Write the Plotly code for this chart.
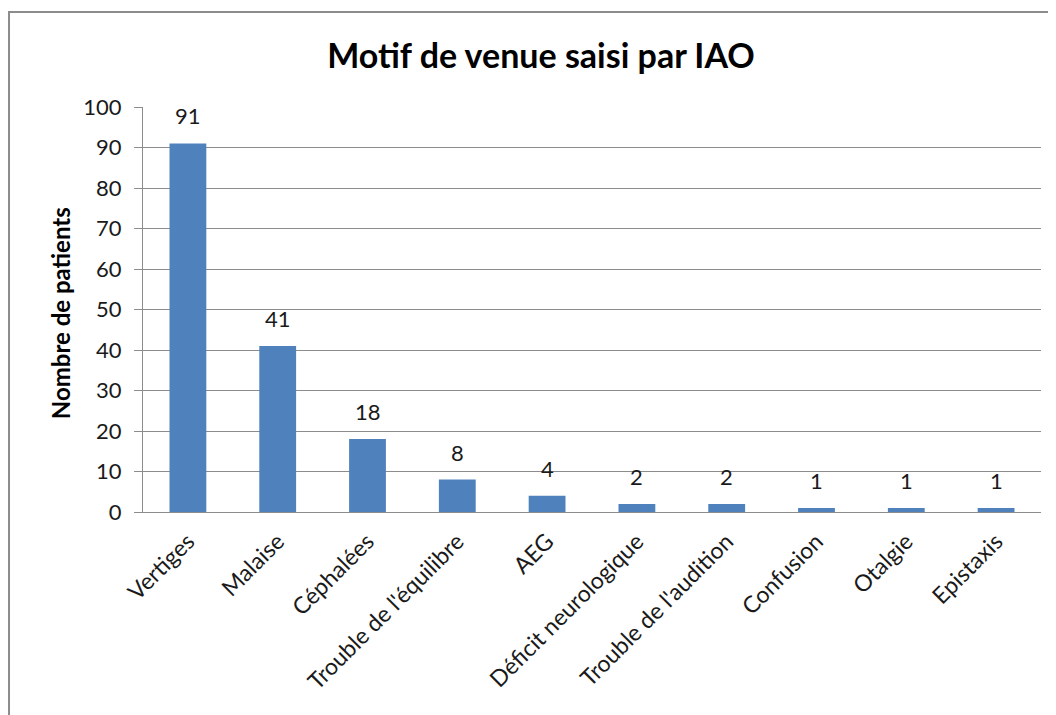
import plotly.graph_objects as go

# data
motifs = ["Vertiges", "Malaise", "Céphalées", "Trouble de l'équilibre", "AEG",
          "Déficit neurologique", "Trouble de l'audition", "Confusion", "Otalgie", "Epistaxis"]
patients = [91, 41, 18, 8, 4, 2, 2, 1, 1, 1]
y_ticks = list(range(0, 101, 10))

FONT = "Lato"
GRID = "#8c8c8c"

fig = go.Figure()
fig.add_trace(go.Bar(x=motifs, y=patients, width=0.41,
                     marker=dict(color="#4f81bd", line=dict(width=0))))

# value labels above each bar
for m, v in zip(motifs, patients):
    fig.add_annotation(x=m, y=v, text=str(v), showarrow=False, yanchor="bottom",
                       yshift=12, font=dict(family=FONT, size=22, color="#1a1a1a"))

# y axis title
fig.add_annotation(xref="paper", yref="paper", x=-0.0924, y=0.491, xanchor="center", yanchor="middle",
                   text="<b>Nombre de patients</b>", textangle=-90, showarrow=False,
                   font=dict(family=FONT, size=24, color="#000"))

# outer chart frame (runs off the right and bottom of the picture)
fig.add_shape(type="rect", xref="paper", yref="paper", x0=-0.1492, y0=-0.7, x1=1.1, y1=1.2346,
              line=dict(color="#8c8c8c", width=2))

# page body has an 8px margin, so the figure is 8px smaller than the window
fig.update_layout(
    width=1048, height=707,
    margin=dict(l=135, r=15, t=99, b=203, autoexpand=False),
    plot_bgcolor="white", paper_bgcolor="white",
    showlegend=False,
    title=dict(text="<b>Motif de venue saisi par IAO</b>", x=0.5086, xanchor="center",
               y=0.932, yanchor="middle", font=dict(family=FONT, size=34, color="#000")),
    font=dict(family=FONT, size=22, color="#1a1a1a"),
)
fig.update_xaxes(showline=True, linecolor=GRID, linewidth=1, showgrid=False, ticks="",
                 tickangle=-45, ticklabelstandoff=6, tickfont=dict(size=23))
fig.update_yaxes(range=[0, 100], tickvals=y_ticks, showline=True, linecolor=GRID, linewidth=1,
                 showgrid=True, gridcolor=GRID, gridwidth=1, ticks="outside", ticklen=8,
                 tickcolor=GRID, ticklabelstandoff=8, zeroline=False, tickfont=dict(size=22))

fig.write_html("out.html")
